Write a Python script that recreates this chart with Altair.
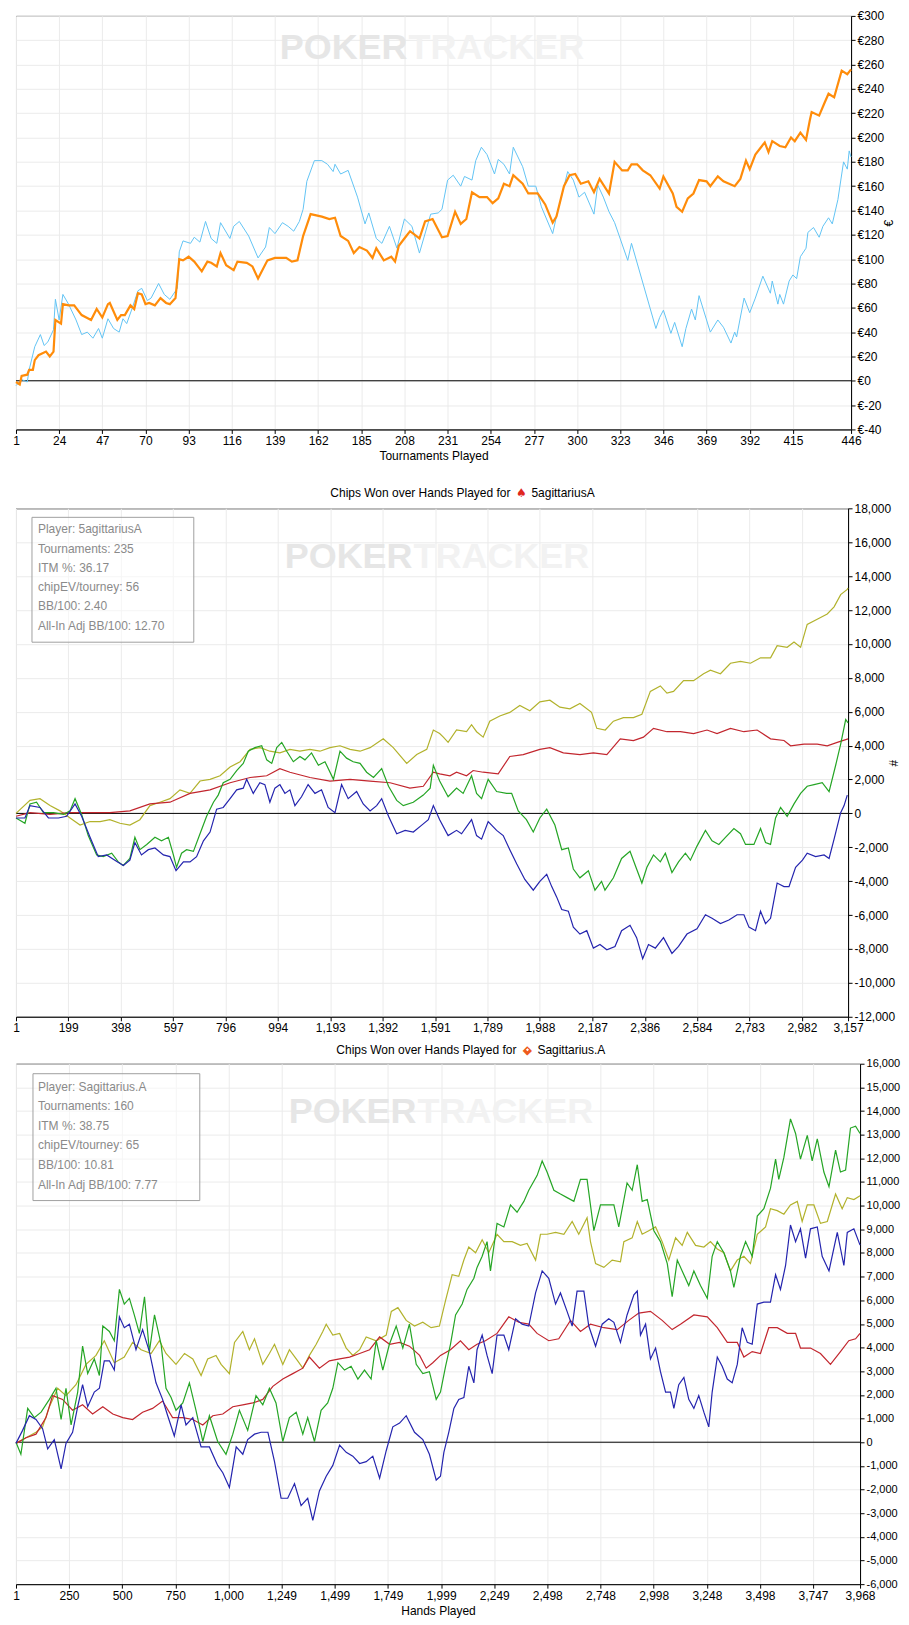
import altair as alt
import pandas as pd

FONT = "Liberation Sans"
WM_FONT = "Liberation Sans"
GRID = "#EBEBEB"

# ---------------- Panel 1 : money won over tournaments ----------------
P1_XTICKS = [1, 24, 47, 70, 93, 116, 139, 162, 185, 208, 231, 254, 277, 300, 323, 346, 369, 392, 415, 446]
P1_YTICKS = list(range(-40, 301, 20))

P1_ORANGE = [(1,-1),(3,-3),(4,4),(7,5),(8,9),(10,9),(11,17),(13,21),(17,24),(19,20),(21,24),(22,50),(25,47),(26,63),
    (29,62),(32,62),(36,54),(41,50),(44,59),(47,52),(50,63),(51,64),(55,50),(57,54),(59,54),(62,62),(64,59),(66,72),
    (68,71),(70,63),(72,64),(75,62),(78,68),(81,64),(83,63),(86,68),(88,100),(90,99),(93,102),(96,98),(100,90),(103,98),
    (105,97),(108,94),(110,105),(113,95),(117,91),(119,98),(124,97),(127,94),(130,84),(135,99),(139,101),(145,101),
    (148,98),(151,99),(154,119),(158,137),(164,135),(168,133),(171,134),(174,119),(178,115),(181,105),(184,110),
    (188,107),(191,101),(193,109),(197,99),(201,102),(203,98),(205,111),(209,119),(211,123),(216,117),(219,131),
    (223,133),(228,118),(231,119),(235,139),(238,129),(241,133),(244,155),(248,151),(252,151),(255,146),(258,150),
    (261,162),(264,160),(266,169),(271,162),(274,154),(279,154),(283,145),(287,130),(289,135),(293,160),(296,169),
    (299,170),(302,162),(306,164),(309,155),(312,166),(317,154),(320,180),(324,173),(327,173),(329,178),(332,178),
    (335,173),(339,169),(344,158),(346,168),(351,154),(353,143),(356,139),(359,150),(362,154),(365,165),(369,164),
    (371,160),(375,168),(378,164),(381,162),(384,160),(387,166),(390,181),(392,174),(395,186),(400,196),(402,188),
    (404,197),(408,193),(411,192),(414,200),(416,197),(419,204),(422,198),(424,214),(425,221),(429,218),(432,229),
    (434,236),(437,233),(441,255),(444,252),(446,256)]

P1_BLUE = [(1,-4),(4,1),(7,-1),(8,9),(11,28),(14,38),(16,29),(18,32),(21,42),(22,67),(24,50),(26,71),(29,63),(33,50),
    (36,38),(39,40),(42,35),(45,43),(47,35),(50,51),(53,43),(56,40),(58,51),(60,47),(63,60),(66,74),(68,76),(71,66),
    (73,68),(77,80),(80,71),(83,67),(87,76),(88,106),(90,115),(94,113),(96,118),(99,114),(102,131),(105,117),(108,113),
    (110,130),(115,117),(117,127),(120,131),(125,119),(130,101),(134,110),(136,126),(139,121),(143,130),(146,127),
    (149,123),(152,131),(154,141),(156,164),(160,181),(164,181),(167,178),(170,172),(171,178),(174,170),(178,173),
    (183,151),(187,129),(189,138),(193,117),(196,113),(200,127),(204,109),(208,133),(212,127),(216,105),(222,137),
    (226,138),(228,141),(231,165),(234,169),(238,160),(240,168),(244,165),(246,181),(249,192),(252,186),(256,170),
    (258,182),(261,178),(264,170),(266,192),(271,176),(274,160),(278,160),(281,143),(287,121),(289,135),(295,172),
    (298,165),(301,151),(304,155),(309,137),(311,161),(314,151),(317,139),(320,130),(327,99),(329,113),(342,43),
    (344,52),(346,58),(350,39),(352,48),(356,28),(358,43),(361,59),(363,50),(365,70),(371,40),(375,50),(378,44),
    (382,31),(384,40),(385,36),(389,68),(392,56),(395,68),(399,86),(403,72),(404,82),(407,63),(408,71),(410,63),
    (413,82),(415,87),(417,84),(419,102),(422,109),(423,122),(426,126),(429,118),(431,127),(434,134),(436,129),
    (439,149),(442,180),(444,174),(445,189),(446,184)]

# ---------------- Panel 2 : chips won, 5agittariusA ----------------
P2_XTICKS = [1, 199, 398, 597, 796, 994, 1193, 1392, 1591, 1789, 1988, 2187, 2386, 2584, 2783, 2982, 3157]
P2_YTICKS = list(range(-12000, 18001, 2000))
P2_INFO = ["Player: 5agittariusA", "Tournaments: 235", "ITM %: 36.17", "chipEV/tourney: 56",
           "BB/100: 2.40", "All-In Adj BB/100: 12.70"]

P2_OLIVE = [(1,0),(54,770),(92,870),(130,460),(168,150),(206,-270),(244,-690),(282,-480),(320,-480),(357,-370),
    (395,-580),(433,-690),(471,-370),(509,460),(547,660),(585,870),(623,1390),(661,1180),(699,1910),(737,2010),
    (775,2220),(813,2740),(851,3050),(889,3780),(927,3880),(964,3670),(1002,3570),(1040,3780),(1078,3670),(1116,3780),
    (1154,3670),(1192,3880),(1230,3990),(1268,3780),(1306,3670),(1344,3880),(1394,4400),(1432,3880),(1483,2950),
    (1521,3470),(1559,3780),(1584,4920),(1608,4710),(1622,4500),(1640,4190),(1672,4920),(1710,4820),(1729,5230),
    (1748,4820),(1773,4500),(1798,5440),(1836,5750),(1874,5960),(1912,6370),(1950,6060),(1988,6580),(2026,6680),
    (2064,6270),(2102,6170),(2140,6480),(2184,5960),(2204,5020),(2236,4920),(2267,5440),(2305,5650),(2343,5650),
    (2375,5850),(2407,7200),(2445,7520),(2470,7100),(2495,7200),(2533,7830),(2571,7830),(2609,8240),(2635,8450),
    (2673,8240),(2711,8860),(2749,8970),(2787,8860),(2825,9180),(2863,9180),(2888,9900),(2926,9800),(2952,10110),
    (2977,9800),(3002,11150),(3040,11460),(3078,11770),(3104,12190),(3129,12910),(3154,13220),(3157,13300)]

P2_RED = [(1,-170),(54,40),(130,-60),(206,40),(282,40),(357,40),(433,150),(509,560),(585,660),(661,1180),(737,1390),
    (813,1810),(889,2120),(952,2220),(1002,2640),(1040,2430),(1116,2120),(1192,1910),(1268,2010),(1344,1910),
    (1420,1810),(1495,1490),(1546,1600),(1584,2430),(1608,2330),(1647,2220),(1672,2430),(1710,2220),(1735,2530),
    (1773,2430),(1830,2330),(1874,3360),(1925,3470),(1988,3780),(2026,3880),(2077,3570),(2140,3470),(2191,3570),
    (2242,3470),(2293,4400),(2343,4300),(2381,4500),(2419,5020),(2470,4820),(2521,4820),(2571,4710),(2622,4920),
    (2660,4710),(2711,5020),(2762,4820),(2812,4920),(2863,4400),(2914,4300),(2939,3990),(2990,4090),(3040,4090),
    (3078,3990),(3116,4190),(3157,4400)]

P2_GREEN = [(1,-270),(35,-580),(54,560),(79,660),(105,40),(143,40),(181,-60),(206,150),(225,870),(250,-60),
    (275,-1310),(307,-2450),(332,-2550),(364,-2350),(389,-2860),(408,-3070),(433,-2660),(452,-1410),(471,-2140),
    (497,-1830),(528,-1410),(553,-1620),(579,-1410),(598,-2450),(610,-3180),(629,-2350),(648,-2140),(674,-2240),
    (699,-1200),(724,-170),(750,660),(768,1080),(787,1810),(813,2010),(838,2530),(863,2950),(882,3670),(907,3880),
    (933,3990),(952,3160),(971,2950),(990,3880),(1009,4190),(1028,3670),(1053,3050),(1078,3360),(1097,3160),
    (1122,3570),(1148,2840),(1173,3050),(1205,2010),(1230,3670),(1255,3260),(1280,3050),(1306,2950),(1331,2430),
    (1357,2120),(1388,2640),(1414,1600),(1445,770),(1470,460),(1508,660),(1546,1080),(1572,1490),(1584,2840),
    (1608,1910),(1640,980),(1672,1490),(1697,1180),(1729,2220),(1748,1180),(1767,870),(1792,2010),(1824,1290),
    (1862,1180),(1881,1180),(1906,150),(1937,-370),(1963,-1100),(1988,-270),(2014,250),(2045,-690),(2071,-2140),
    (2096,-2040),(2115,-3280),(2140,-3800),(2172,-3380),(2197,-4530),(2222,-4010),(2235,-4530),(2267,-3800),
    (2298,-2660),(2330,-2240),(2355,-3280),(2375,-4110),(2394,-3180),(2419,-2450),(2445,-2860),(2464,-2350),
    (2489,-3490),(2514,-2860),(2540,-2350),(2559,-2760),(2584,-1930),(2616,-1000),(2641,-1620),(2667,-1830),
    (2692,-1410),(2724,-890),(2749,-1200),(2768,-1830),(2800,-1830),(2825,-890),(2844,-1720),(2863,-1830),
    (2882,-270),(2901,350),(2926,-170),(2952,560),(2977,1180),(3002,1600),(3028,1700),(3059,1810),(3085,1290),
    (3110,2840),(3129,4090),(3148,5540),(3157,5340)]

P2_BLUE = [(1,-270),(35,-270),(54,460),(92,350),(124,-270),(162,-270),(193,-170),(225,560),(250,-170),(282,-1410),
    (313,-2550),(345,-2450),(376,-2760),(408,-3070),(433,-2760),(452,-1720),(477,-2450),(503,-2140),(528,-2040),
    (560,-2450),(585,-2550),(608,-3380),(636,-2860),(661,-2860),(686,-2550),(712,-1620),(737,-1100),(762,250),
    (787,350),(813,870),(838,1390),(863,1490),(876,2010),(901,1180),(926,1810),(945,1700),(964,660),(983,1490),
    (1002,1700),(1021,1180),(1040,1390),(1059,460),(1084,980),(1109,1700),(1135,1180),(1160,1390),(1185,350),
    (1211,40),(1236,1700),(1261,870),(1293,1290),(1318,560),(1344,150),(1369,460),(1388,870),(1414,-170),
    (1445,-1200),(1477,-1000),(1508,-1100),(1540,-690),(1565,-370),(1584,460),(1608,-370),(1640,-1310),(1672,-1000),
    (1691,-1200),(1729,-370),(1748,-1310),(1767,-1520),(1792,-480),(1824,-1000),(1849,-1310),(1874,-2140),
    (1900,-2970),(1931,-3900),(1963,-4530),(1988,-4010),(2014,-3590),(2033,-4320),(2052,-4940),(2071,-5670),
    (2096,-5770),(2115,-6710),(2140,-7120),(2166,-6920),(2191,-7950),(2216,-7740),(2242,-8050),(2273,-7850),
    (2298,-6920),(2330,-6600),(2355,-7330),(2378,-8570),(2400,-7740),(2426,-7950),(2457,-7330),(2489,-8260),
    (2514,-7850),(2546,-7120),(2584,-6810),(2616,-5980),(2641,-6190),(2673,-6500),(2705,-6290),(2736,-5980),
    (2762,-5980),(2781,-6710),(2806,-6920),(2825,-5770),(2844,-6500),(2863,-6190),(2888,-4110),(2914,-4320),
    (2933,-4320),(2958,-3180),(2984,-2760),(3002,-2350),(3034,-2550),(3066,-2450),(3085,-2660),(3104,-1520),
    (3129,40),(3142,460),(3154,1080)]

# ---------------- Panel 3 : chips won, Sagittarius.A ----------------
P3_XTICKS = [1, 250, 500, 750, 1000, 1249, 1499, 1749, 1999, 2249, 2498, 2748, 2998, 3248, 3498, 3747, 3968]
P3_YTICKS = list(range(-6000, 16001, 1000))
P3_INFO = ["Player: Sagittarius.A", "Tournaments: 160", "ITM %: 38.75", "chipEV/tourney: 65",
           "BB/100: 10.81", "All-In Adj BB/100: 7.77"]

P3_GREEN = [(1,0),(24,-510),(56,1430),(87,1040),(119,1270),(158,1810),(189,2280),(213,960),(236,2280),(260,730),
    (291,2120),(314,4060),(338,2900),(369,3520),(393,2820),(409,4910),(440,4680),(463,4290),(487,6460),(510,5840),
    (534,6080),(557,5380),(581,4600),(605,6150),(628,3830),(652,5380),(683,4140),(706,2280),(730,1890),(753,1350),
    (785,1660),(816,2510),(847,1350),(879,30),(910,1120),(949,30),(988,-510),(1020,340),(1051,1350),(1090,500),
    (1129,1970),(1161,1580),(1192,2280),(1223,1660),(1255,30),(1286,1040),(1318,1270),(1349,340),(1372,1040),
    (1404,30),(1435,1350),(1466,1660),(1490,2280),(1514,3360),(1545,3050),(1576,3210),(1608,2670),(1639,3050),
    (1670,2670),(1694,4290),(1725,3050),(1756,4140),(1788,4910),(1819,3980),(1850,4990),(1882,3290),(1913,2900),
    (1944,2980),(1976,1810),(1996,2120),(2020,3210),(2043,4140),(2067,5380),(2098,5840),(2121,6460),(2153,6930),
    (2168,7390),(2192,7860),(2215,8480),(2231,7240),(2262,9250),(2294,9100),(2325,10030),(2356,9720),(2388,10180),
    (2411,10650),(2450,11270),(2474,11890),(2497,11420),(2529,10650),(2560,10490),(2591,10340),(2623,10180),
    (2654,11110),(2685,11110),(2717,8940),(2748,10030),(2780,10030),(2811,10030),(2834,9100),(2873,10960),
    (2897,10650),(2921,11730),(2944,10180),(2968,10260),(2999,8940),(3030,8480),(3062,7550),(3085,6150),(3109,7700),
    (3132,7240),(3163,6620),(3187,7240),(3218,6620),(3250,6080),(3273,7860),(3297,8480),(3328,8010),(3359,7240),
    (3375,6540),(3406,7860),(3430,8480),(3461,7860),(3485,9560),(3516,9870),(3547,10730),(3571,11970),(3586,11110),
    (3610,12040),(3641,13670),(3665,13050),(3688,11970),(3720,12970),(3743,11890),(3767,12820),(3798,11420),
    (3822,10800),(3853,12350),(3876,11420),(3900,11500),(3923,13280),(3947,13360),(3968,13050)]

P3_OLIVE = [(1,-50),(48,190),(95,420),(126,650),(158,1500),(197,2280),(236,1970),(283,2430),(330,3290),(377,3670),
    (416,4290),(463,3360),(510,3600),(549,4220),(589,3910),(636,3750),(675,4290),(706,3750),(753,3290),(793,3750),
    (832,3520),(871,2820),(902,3520),(941,3670),(965,3290),(1004,2900),(1028,4220),(1067,4680),(1098,3910),
    (1122,4370),(1161,3290),(1192,3750),(1216,4140),(1255,3290),(1286,3910),(1325,3440),(1349,3130),(1380,3670),
    (1412,4140),(1443,4680),(1459,4990),(1490,4530),(1522,4600),(1553,3980),(1584,3670),(1616,3910),(1647,4450),
    (1694,4290),(1741,4530),(1765,5530),(1796,5690),(1835,5150),(1874,4910),(1913,5070),(1952,4840),(1991,4910),
    (2020,6000),(2051,7080),(2082,7010),(2106,7700),(2129,8250),(2161,8010),(2192,8560),(2223,8010),(2262,8790),
    (2294,8480),(2333,8480),(2372,8320),(2403,8400),(2443,7700),(2466,8790),(2497,8790),(2537,8870),(2576,8790),
    (2615,9330),(2646,8790),(2685,9490),(2701,8480),(2725,7550),(2764,7390),(2803,7700),(2842,7630),(2858,8480),
    (2897,8640),(2921,9330),(2944,8790),(2975,8940),(3007,9100),(3038,8480),(3069,7700),(3101,8640),(3132,8320),
    (3156,8870),(3195,8320),(3234,8250),(3265,8480),(3297,8170),(3328,8010),(3359,7240),(3391,7700),(3422,7860),
    (3453,7550),(3485,8790),(3524,9100),(3547,9870),(3579,9790),(3610,9640),(3641,10030),(3673,10180),(3696,9330),
    (3720,10030),(3751,10030),(3782,9250),(3814,9330),(3853,10490),(3884,9870),(3908,10340),(3939,10260),
    (3968,10420)]

P3_RED = [(1,-50),(48,190),(95,340),(142,1040),(173,1970),(220,1810),(267,1350),(314,1580),(361,1190),(409,1500),
    (456,1190),(503,1040),(549,960),(596,1270),(643,1430),(690,1740),(737,1040),(785,1040),(832,960),(879,730),
    (926,1120),(973,1190),(1020,1500),(1067,1580),(1114,1660),(1161,1810),(1208,2360),(1255,2670),(1302,2900),
    (1349,3130),(1380,3600),(1427,3130),(1474,3440),(1522,3520),(1569,3600),(1616,3750),(1663,3910),(1710,4450),
    (1757,4140),(1804,4220),(1850,4060),(1898,3670),(1929,3130),(1960,3360),(1996,3670),(2043,3910),(2090,4290),
    (2129,3910),(2168,4140),(2207,4290),(2262,4600),(2317,5300),(2364,5070),(2411,4990),(2450,4600),(2505,4290),
    (2552,4370),(2607,5150),(2654,4680),(2701,4990),(2764,4840),(2827,4760),(2881,5150),(2928,5460),(2983,5530),
    (3038,5150),(3085,4760),(3124,4990),(3187,5380),(3250,5300),(3297,4840),(3344,4220),(3391,4220),(3422,3600),
    (3461,3830),(3500,3750),(3539,4840),(3579,4840),(3626,4600),(3665,4600),(3688,3980),(3735,3980),(3782,3750),
    (3829,3290),(3876,3830),(3915,4290),(3947,4370),(3968,4600)]

P3_BLUE = [(1,-50),(32,500),(64,1120),(95,960),(126,570),(150,-280),(181,110),(213,-1130),(236,-50),(267,420),
    (291,1500),(314,2430),(338,1500),(369,2120),(393,2280),(416,3440),(440,3440),(463,3050),(487,5300),(510,4840),
    (534,4990),(565,3910),(596,4760),(628,3830),(659,2510),(690,1810),(714,1120),(745,260),(777,1580),(800,730),
    (832,1040),(871,-200),(910,-200),(949,-980),(973,-1290),(1004,-1910),(1036,-200),(1067,-510),(1090,110),
    (1122,340),(1153,420),(1185,420),(1216,-820),(1247,-2370),(1278,-2370),(1310,-1750),(1341,-2680),(1372,-2370),
    (1396,-3300),(1427,-2060),(1459,-1440),(1490,-980),(1522,-120),(1553,-430),(1584,-590),(1616,-900),(1647,-820),
    (1678,-590),(1710,-1520),(1741,-360),(1772,650),(1804,810),(1835,1120),(1874,420),(1913,110),(1944,-510),
    (1976,-1600),(1996,-1440),(2012,-430),(2035,420),(2059,1430),(2082,1810),(2106,1890),(2129,3210),(2153,2510),
    (2168,3910),(2192,4530),(2215,3670),(2239,2900),(2262,4530),(2294,4530),(2317,3910),(2349,5220),(2380,4990),
    (2411,4910),(2443,6310),(2474,7240),(2505,6930),(2537,5840),(2560,6310),(2591,5530),(2615,4910),(2638,6390),
    (2670,6390),(2693,4910),(2725,4060),(2756,4990),(2787,5220),(2811,5070),(2842,4220),(2873,5380),(2905,6230),
    (2921,6390),(2936,4530),(2960,4990),(2983,3520),(3007,3980),(3030,2980),(3054,2120),(3077,2120),(3093,1430),
    (3116,2430),(3140,2740),(3163,1810),(3187,1430),(3210,1970),(3234,1270),(3257,650),(3273,2120),(3297,3600),
    (3320,3210),(3344,2670),(3367,2510),(3391,3290),(3414,4840),(3438,4220),(3461,4140),(3485,5840),(3516,5920),
    (3547,5920),(3571,7080),(3594,6460),(3618,7470),(3641,9180),(3665,8480),(3688,9020),(3712,7780),(3735,9020),
    (3767,9100),(3790,7860),(3822,7240),(3861,8870),(3892,7470),(3908,8870),(3939,9020),(3968,8330)]

SERIES_NAMES = ["olive", "red", "green", "blue"]
SERIES_COLORS = ["#B2B22C", "#C2262E", "#25A525", "#2424AE"]


def to_df(series):
    rows = []
    for name, pts in series.items():
        for x, y in pts:
            rows.append({"x": x, "y": y, "series": name})
    return pd.DataFrame(rows)


ONE = pd.DataFrame({"k": [0]})
ZERO = pd.DataFrame({"y": [0]})

NEG_FMT = "(datum.value < 0 ? '-' : '') + format(abs(datum.value), ',')"
COMMA_FMT = "format(datum.value, ',')"


def x_axis(values, title, expr):
    return alt.Axis(values=values, labelExpr=expr, labelFlush=False, labelOverlap=False, grid=True,
                    gridColor=GRID, gridWidth=1, domainColor="black", domainWidth=1, tickColor="black",
                    tickSize=4, labelPadding=2, labelFont=FONT, labelFontSize=12, labelColor="black",
                    title=title, titleFont=FONT, titleFontSize=12, titleFontWeight="normal",
                    titleColor="black", titlePadding=4)


def y_axis(values, title, expr, size, tpad):
    return alt.Axis(orient="right", values=values, labelExpr=expr, grid=True, gridColor=GRID, gridWidth=1,
                    domainColor="black", domainWidth=1, tickColor="black", tickSize=4, labelPadding=2,
                    labelFont=FONT, labelFontSize=size, labelColor="black", labelOverlap=False,
                    title=title, titleFont=FONT, titleFontSize=12, titleFontWeight="normal",
                    titleColor="black", titleAngle=270, titlePadding=tpad)


def watermark(split_x, y, size):
    a = alt.Chart(ONE).mark_text(text="POKER", align="right", baseline="middle", font=WM_FONT,
                                 fontSize=size, fontWeight="bold", color="#E6E6E6").encode(
        x=alt.value(split_x), y=alt.value(y))
    b = alt.Chart(ONE).mark_text(text="TRACKER", align="left", baseline="middle", font=WM_FONT,
                                 fontSize=size, fontWeight="bold", color="#F2F2F2").encode(
        x=alt.value(split_x + 1), y=alt.value(y))
    return [a, b]


def info_box(lines, x0, x1, y0, y1, tx, ty, lh):
    box = alt.Chart(ONE).mark_rect(fill="white", fillOpacity=0.5, stroke="#A0A0A0", strokeWidth=1).encode(
        x=alt.value(x0), x2=alt.value(x1), y=alt.value(y0), y2=alt.value(y1))
    txt = alt.Chart(ONE).mark_text(align="left", baseline="middle", font=FONT, fontSize=12, color="#8A8A8A",
                                   lineHeight=lh).encode(
        x=alt.value(tx), y=alt.value(ty), text=alt.value(lines))
    return [box, txt]


def panel_title(name, right_x, y, icon, icon_color, inner):
    parts = [
        alt.Chart(ONE).mark_text(text="Chips Won over Hands Played for", align="right", baseline="middle",
                                 font=FONT, fontSize=12, color="black").encode(x=alt.value(right_x), y=alt.value(y)),
        alt.Chart(ONE).mark_text(text=icon, align="center", baseline="middle", font="DejaVu Sans",
                                 fontSize=12, color=icon_color).encode(x=alt.value(right_x + 11), y=alt.value(y)),
    ]
    if inner:
        parts.append(alt.Chart(ONE).mark_point(shape="diamond", filled=True, color="white", opacity=1,
                                               size=10).encode(x=alt.value(right_x + 11), y=alt.value(y)))
    parts.append(alt.Chart(ONE).mark_text(text=name, align="left", baseline="middle", font=FONT, fontSize=12,
                                          color="black").encode(x=alt.value(right_x + 21), y=alt.value(y)))
    return parts


# ---------- build panel 1 ----------
x1 = alt.X("x:Q", scale=alt.Scale(domain=[1, 446], nice=False, zero=False),
           axis=x_axis(P1_XTICKS, "Tournaments Played", "datum.value + ''"))
y1 = alt.Y("y:Q", scale=alt.Scale(domain=[-40, 300], nice=False),
           axis=y_axis(P1_YTICKS, "€", "'€' + datum.value", 12, 12))

p1_df = to_df({"orange": P1_ORANGE, "blue": P1_BLUE})
p1_layers = watermark(392, 32, 36)
p1_layers.append(alt.Chart(ZERO).mark_rule(color="black", strokeWidth=1).encode(y=y1))
p1_layers.append(alt.Chart(p1_df).transform_filter(alt.datum.series == "blue").mark_line(
    color="#62C4F4", strokeWidth=1, interpolate="linear").encode(x=x1, y=y1))
p1_layers.append(alt.Chart(p1_df).transform_filter(alt.datum.series == "orange").mark_line(
    color="#FF8C0A", strokeWidth=2.2, interpolate="linear").encode(x=x1, y=y1))
p1 = alt.layer(*p1_layers).properties(width=836, height=414)

# ---------- build panel 2 ----------
x2 = alt.X("x:Q", scale=alt.Scale(domain=[1, 3157], nice=False, zero=False), axis=x_axis(P2_XTICKS, "", COMMA_FMT))
y2 = alt.Y("y:Q", scale=alt.Scale(domain=[-12000, 18000], nice=False),
           axis=y_axis(P2_YTICKS, "#", NEG_FMT, 12, 6))
color = alt.Color("series:N", scale=alt.Scale(domain=SERIES_NAMES, range=SERIES_COLORS), legend=None)

p2_df = to_df({"olive": P2_OLIVE, "red": P2_RED, "green": P2_GREEN, "blue": P2_BLUE})
p2_layers = [alt.Chart(ONE).mark_rule(opacity=0).encode(x=alt.value(0), y=alt.value(-37), y2=alt.value(0))]
p2_layers += watermark(397, 49, 36)
p2_layers.append(alt.Chart(ZERO).mark_rule(color="black", strokeWidth=1).encode(y=y2))
p2_layers.append(alt.Chart(p2_df).mark_line(strokeWidth=1.2).encode(x=x2, y=y2, color=color))
p2_layers += info_box(P2_INFO, 16, 178, 9, 134, 22, 21, 19.3)
p2_layers += panel_title("5agittariusA", 495, -15, "♠", "#E0261E", False)
p2 = alt.layer(*p2_layers).properties(width=833, height=509)

# ---------- build panel 3 ----------
x3 = alt.X("x:Q", scale=alt.Scale(domain=[1, 3968], nice=False, zero=False),
           axis=x_axis(P3_XTICKS, "Hands Played", COMMA_FMT))
y3 = alt.Y("y:Q", scale=alt.Scale(domain=[-6000, 16000], nice=False),
           axis=y_axis(P3_YTICKS, "", NEG_FMT, 11, 4))

p3_df = to_df({"olive": P3_OLIVE, "red": P3_RED, "green": P3_GREEN, "blue": P3_BLUE})
p3_layers = watermark(401, 48, 36)
p3_layers.append(alt.Chart(ZERO).mark_rule(color="black", strokeWidth=1).encode(y=y3))
p3_layers.append(alt.Chart(p3_df).mark_line(strokeWidth=1.2).encode(x=x3, y=y3, color=color))
p3_layers += info_box(P3_INFO, 17, 184, 10, 137, 22, 23, 19.6)
p3_layers += panel_title("Sagittarius.A", 501, -14, "◆", "#EE5A1E", True)
p3 = alt.layer(*p3_layers).properties(width=845, height=521)

chart = alt.vconcat(p1, p2, p3, spacing=8).properties(
    padding={"left": 3, "top": 0, "right": 0, "bottom": 0}
).configure_view(stroke="black", strokeWidth=1)

chart.save("out.html", embed_options={"renderer": "svg", "actions": False})
